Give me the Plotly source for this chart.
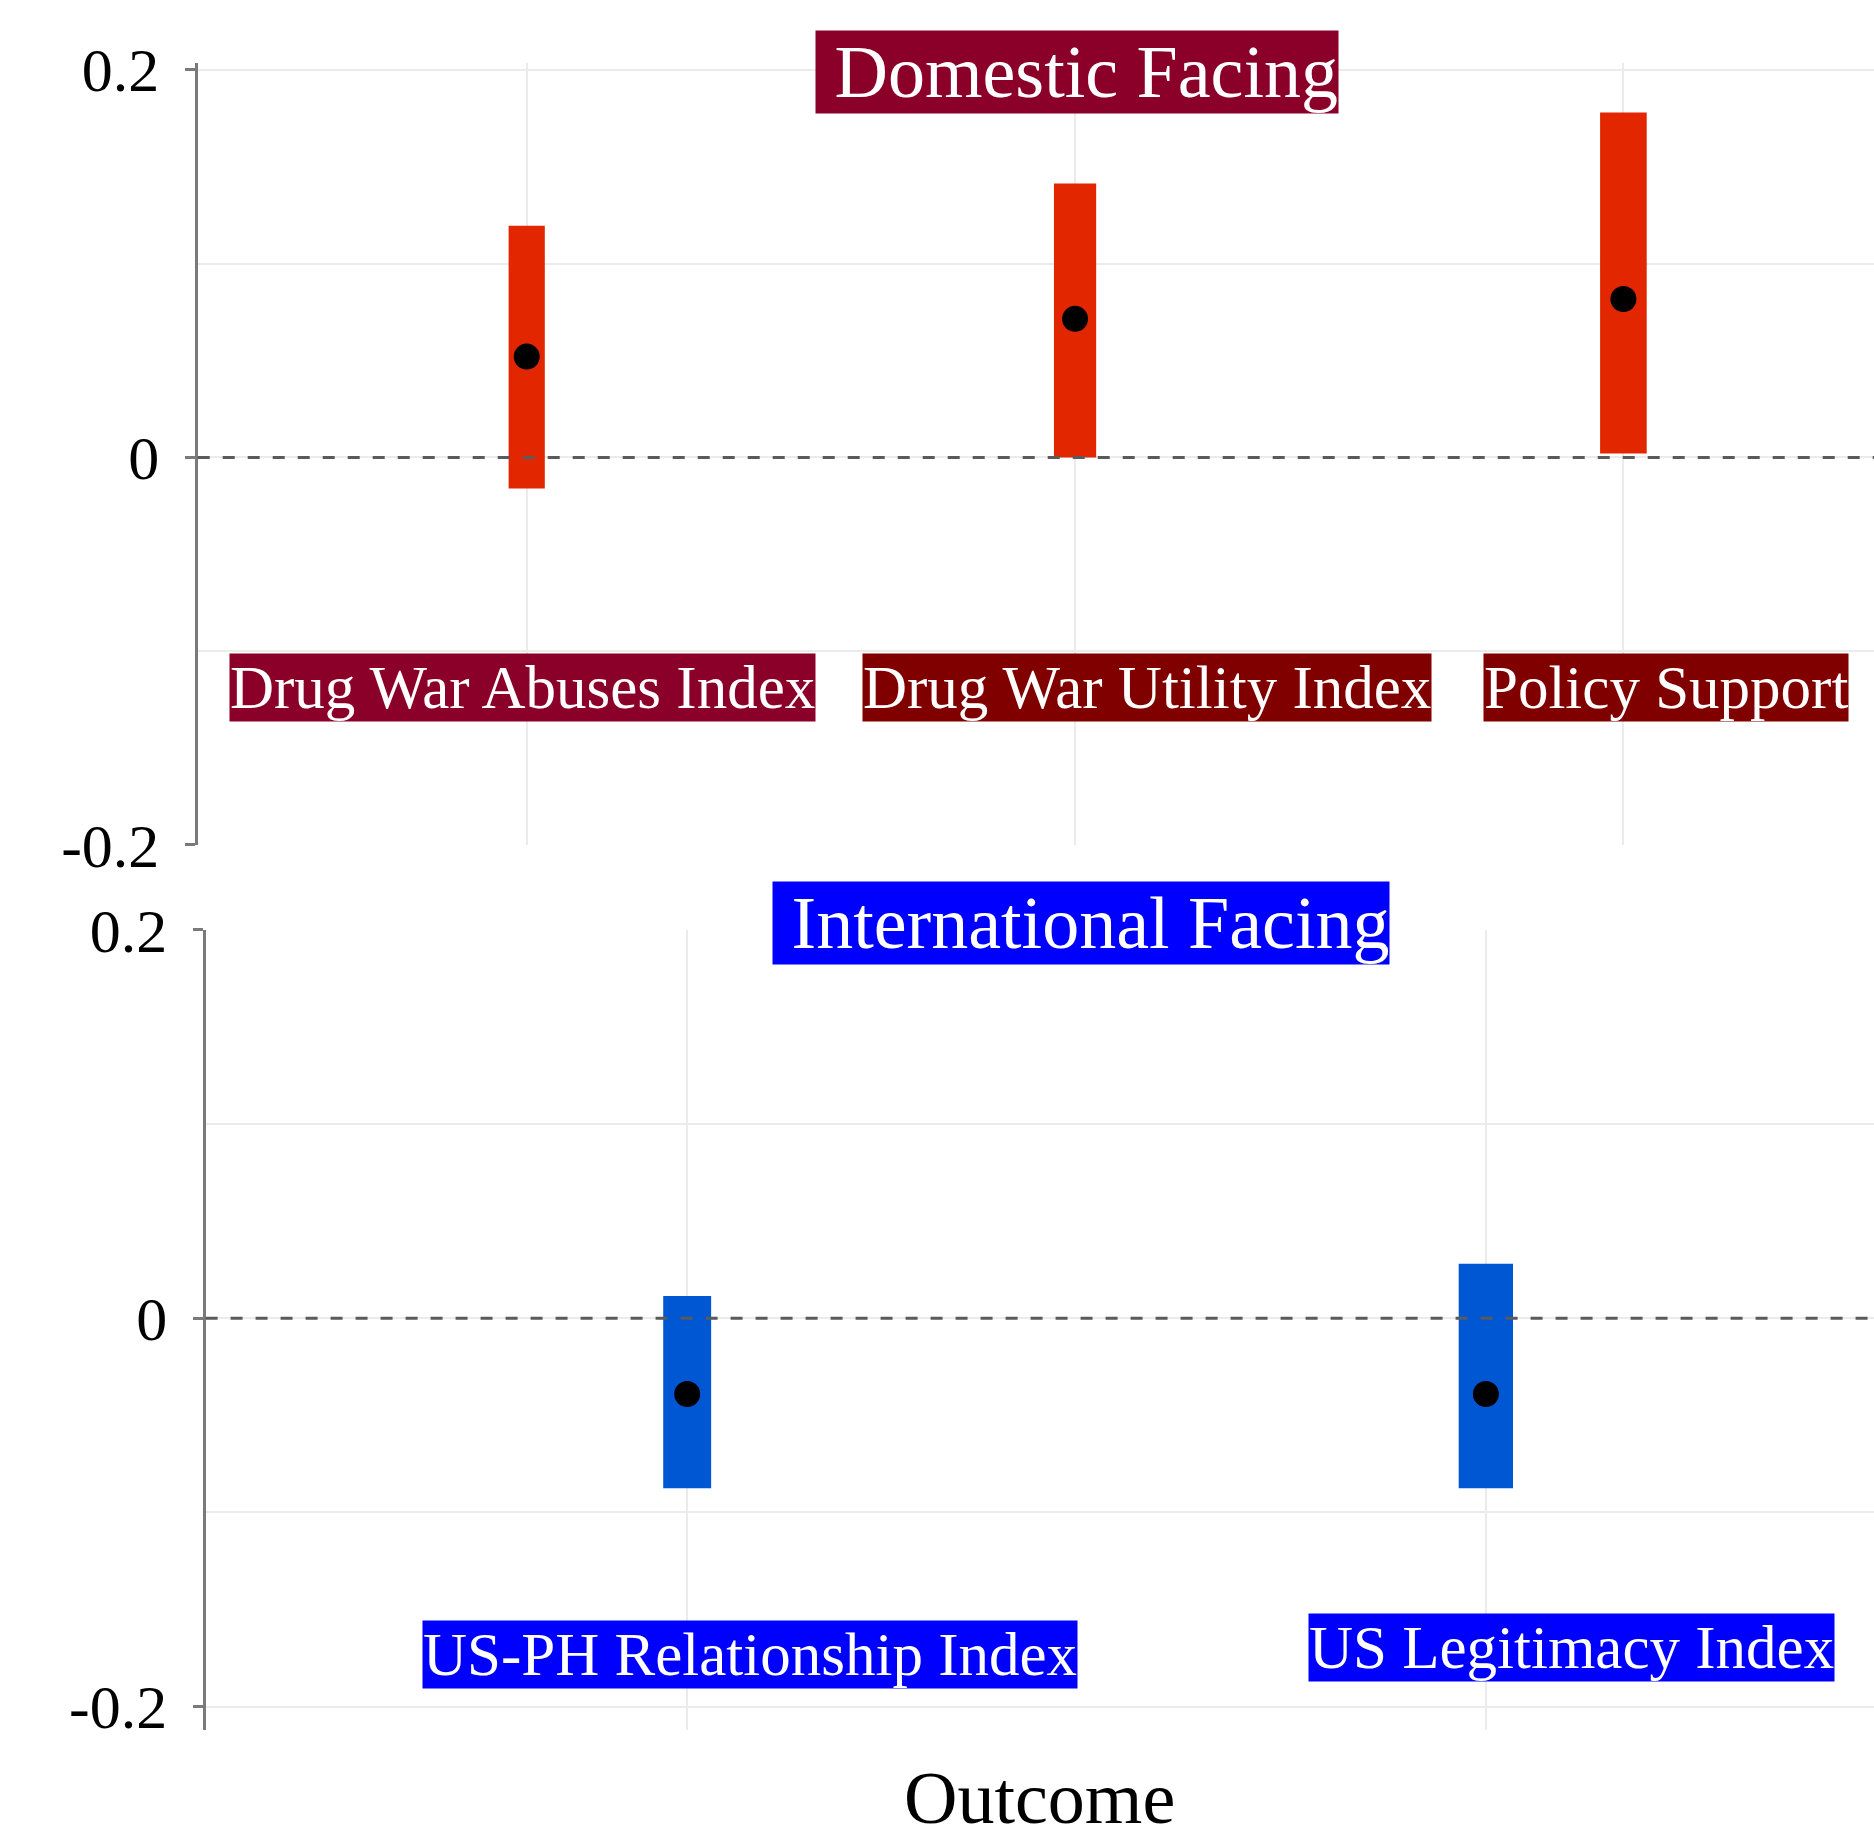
import plotly.graph_objects as go

# Domestic-facing outcomes
dom_outcomes = ["Drug War Abuses Index", "Drug War Utility Index", "Policy Support"]
dom_est = [0.052, 0.0715, 0.0817]
dom_lo = [-0.016, 0.0, 0.002]
dom_hi = [0.1195, 0.1413, 0.178]
dom_bar_width = [0.066, 0.077, 0.085]
dom_label_x = [-0.008, 1.131, 2.077]
dom_label_bg = ["#8B0029", "#800000", "#800000"]

# International-facing outcomes
int_outcomes = ["US-PH Relationship Index", "US Legitimacy Index"]
int_est = [-0.039, -0.039]
int_lo = [-0.0875, -0.0875]
int_hi = [0.0115, 0.028]
int_bar_width = [0.060, 0.068]
int_label_x = [0.079, 1.107]
int_label_y = [-0.173, -0.1695]

y_tickvals = [-0.2, 0, 0.2]
y_ticktext = ["-0.2", "0", "0.2"]

SERIF = "Liberation Serif"
RED = "#E12600"
BLUE = "#0057D4"
GRID = "#EBEBEB"
AXIS = "#7A7A7A"

fig = go.Figure()

# CI bars (base = lower bound, length = upper - lower)
fig.add_trace(go.Bar(
    x=list(range(len(dom_outcomes))),
    base=dom_lo,
    y=[h - l for h, l in zip(dom_hi, dom_lo)],
    width=dom_bar_width,
    marker=dict(color=RED, line=dict(width=0)),
    hoverinfo="skip", showlegend=False, xaxis="x", yaxis="y",
))
fig.add_trace(go.Scatter(
    x=list(range(len(dom_outcomes))), y=dom_est, mode="markers",
    marker=dict(color="black", size=26),
    showlegend=False, xaxis="x", yaxis="y",
))

fig.add_trace(go.Bar(
    x=list(range(len(int_outcomes))),
    base=int_lo,
    y=[h - l for h, l in zip(int_hi, int_lo)],
    width=int_bar_width,
    marker=dict(color=BLUE, line=dict(width=0)),
    hoverinfo="skip", showlegend=False, xaxis="x2", yaxis="y2",
))
fig.add_trace(go.Scatter(
    x=list(range(len(int_outcomes))), y=int_est, mode="markers",
    marker=dict(color="black", size=26),
    showlegend=False, xaxis="x2", yaxis="y2",
))

yaxis_common = dict(
    tickvals=y_tickvals, ticktext=y_ticktext,
    ticks="outside", ticklen=10, tickwidth=3, tickcolor=AXIS,
    ticklabelstandoff=13,
    tickfont=dict(family=SERIF, size=62, color="black"),
    showline=True, linecolor=AXIS, linewidth=3,
    showgrid=True, gridcolor=GRID, gridwidth=2,
    minor=dict(tickvals=[-0.1, 0.1], showgrid=True, gridcolor=GRID, gridwidth=2, ticks=""),
    zeroline=False, automargin=False,
)
xaxis_common = dict(
    showticklabels=False, ticks="",
    showgrid=True, gridcolor=GRID, gridwidth=2,
    zeroline=False, showline=False, automargin=False,
)

fig.update_layout(
    width=1874, height=1825,
    margin=dict(l=0, r=0, t=0, b=0, autoexpand=False),
    paper_bgcolor="white", plot_bgcolor="white",
    barmode="overlay",
    font=dict(family=SERIF, color="black"),
    xaxis=dict(domain=[0.1055, 1.0], range=[-0.6, 2.457], anchor="y",
               tickvals=[0, 1, 2], **xaxis_common),
    yaxis=dict(domain=[0.53699, 0.96548], range=[-0.2, 0.2035], anchor="x", **yaxis_common),
    xaxis2=dict(domain=[0.1097, 1.0], range=[-0.603, 1.486], anchor="y2",
                tickvals=[0, 1], **xaxis_common),
    yaxis2=dict(domain=[0.05205, 0.49052], range=[-0.212, 0.2], anchor="x2", **yaxis_common),
)

# x-axis title, centred under the lower panel
fig.add_annotation(text="Outcome", xref="x2 domain", yref="paper",
                   x=0.5, y=0.0148, xanchor="center", yanchor="middle", showarrow=False,
                   font=dict(family=SERIF, size=74, color="black"))

# dashed reference lines at zero
for xr, yr in [("x domain", "y"), ("x2 domain", "y2")]:
    fig.add_shape(type="line", xref=xr, yref=yr, x0=0, x1=1, y0=0, y1=0,
                  line=dict(color="#5A5A5A", width=3, dash="12px,13px"), layer="above")

# panel titles
fig.add_annotation(text="&nbsp;Domestic Facing", xref="paper", yref="paper",
                   x=0.5747, y=0.9603, xanchor="center", yanchor="middle", showarrow=False,
                   font=dict(family=SERIF, size=74, color="white"),
                   bgcolor="#8B0029", borderpad=0)
fig.add_annotation(text="&nbsp;International Facing", xref="paper", yref="paper",
                   x=0.5766, y=0.4940, xanchor="center", yanchor="middle", showarrow=False,
                   font=dict(family=SERIF, size=74, color="white"),
                   bgcolor="#0000FF", borderpad=0)

# outcome labels
for name, lx, bg in zip(dom_outcomes, dom_label_x, dom_label_bg):
    fig.add_annotation(text=name, xref="x", yref="y", x=lx, y=-0.1188,
                       xanchor="center", yanchor="middle", showarrow=False,
                       font=dict(family=SERIF, size=61, color="white"),
                       bgcolor=bg, borderpad=0)
for name, lx, ly in zip(int_outcomes, int_label_x, int_label_y):
    fig.add_annotation(text=name, xref="x2", yref="y2", x=lx, y=ly,
                       xanchor="center", yanchor="middle", showarrow=False,
                       font=dict(family=SERIF, size=61, color="white"),
                       bgcolor="#0000FF", borderpad=0)

fig.write_html("out.html")
